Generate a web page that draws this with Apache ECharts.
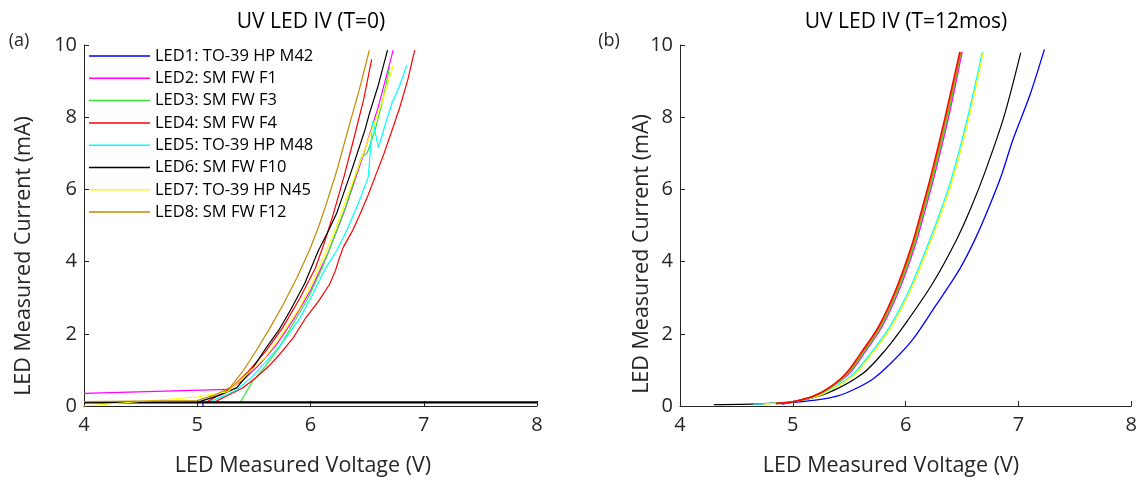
<!DOCTYPE html>
<html><head><meta charset="utf-8">
<script src="https://cdn.jsdelivr.net/npm/echarts@6/dist/echarts.min.js"></script>
<style>html,body{margin:0;padding:0;background:#fff}#c{width:1140px;height:481px}</style>
</head><body><div id="c"></div>
<script>
// ---- names ----
const ledNames = ['LED1: TO-39 HP M42','LED2: SM FW F1','LED3: SM FW F3','LED4: SM FW F4','LED5: TO-39 HP M48','LED6: SM FW F10','LED7: TO-39 HP N45','LED8: SM FW F12'];
const ledColors = ['#0000ff','#ff00ff','#33e633','#ff0000','#00ffff','#000000','#ffff00','#bf8a00'];
const xTicks = [4,5,6,7,8];
const yTicks = [0,2,4,6,8,10];

// ---- T=0 data [V, mA] ----
const t0_led1 = [[5.05,-0.05],[5.05,0.08]];
const t0_led2 = [[4.0,0.35],[5.27,0.46],[5.4,0.7],[5.55,1.15],[5.7,1.7],[5.85,2.4],[6.0,3.2],[6.15,4.2],[6.3,5.4],[6.45,6.8],[6.6,8.3],[6.73,9.86]];
const t0_led3 = [[5.05,0.1],[5.38,0.11],[5.49,0.69],[5.6,1.1],[5.72,1.6],[5.85,2.3],[5.98,3.0],[6.1,3.8],[6.2,4.6],[6.32,5.6],[6.43,6.7],[6.45,6.9],[6.5,7.0],[6.57,7.64],[6.64,8.5],[6.7,9.4]];
const t0_led4a = [[5.08,0.1],[5.3,0.5],[5.45,0.95],[5.6,1.5],[5.75,2.15],[5.9,2.95],[6.04,3.8],[6.12,4.5],[6.2,5.3],[6.3,6.4],[6.39,7.5],[6.47,8.5],[6.54,9.6]];
const t0_led4b = [[5.14,0.09],[5.26,0.28],[5.4,0.5],[5.52,0.79],[5.63,1.1],[5.73,1.44],[5.85,1.9],[5.96,2.45],[6.07,2.9],[6.17,3.38],[6.22,3.75],[6.25,4.05],[6.29,4.4],[6.37,4.85],[6.44,5.33],[6.51,5.85],[6.58,6.43],[6.65,7.0],[6.72,7.64],[6.79,8.29],[6.86,9.05],[6.92,9.86]];
const t0_led5 = [[5.1,0.1],[5.25,0.3],[5.35,0.45],[5.48,0.8],[5.6,1.2],[5.75,1.75],[5.91,2.45],[6.02,3.1],[6.13,3.8],[6.23,4.3],[6.32,4.86],[6.42,5.6],[6.51,6.34],[6.55,7.9],[6.6,7.15],[6.66,7.8],[6.72,8.4],[6.79,8.9],[6.85,9.44]];
const t0_led6 = [[5.0,0.1],[5.2,0.3],[5.35,0.51],[5.48,1.0],[5.61,1.62],[5.72,2.1],[5.82,2.64],[5.95,3.4],[6.07,4.31],[6.15,4.8],[6.23,5.33],[6.36,6.5],[6.48,7.64],[6.52,8.1],[6.6,8.9],[6.68,9.86]];
const t0_led6flat = [[4.0,0.1],[8.0,0.1]];
const t0_led7 = [[4.0,0.0],[5.0,0.25],[5.27,0.4],[5.43,0.85],[5.6,1.35],[5.75,2.0],[5.9,2.7],[6.02,3.45],[6.14,4.31],[6.22,4.9],[6.3,5.6],[6.42,6.6],[6.54,7.64],[6.64,8.5],[6.73,9.44]];
const t0_led8 = [[4.0,0.12],[5.0,0.15],[5.15,0.3],[5.29,0.51],[5.4,0.95],[5.52,1.53],[5.64,2.15],[5.76,2.82],[5.88,3.55],[5.99,4.31],[6.07,4.95],[6.14,5.6],[6.24,6.6],[6.33,7.64],[6.43,8.75],[6.52,9.86]];

// ---- T=12mos data [V, mA] ----
const t12_led1 = [[4.9,0.05],[5.0,0.1],[5.2,0.16],[5.4,0.28],[5.55,0.47],[5.71,0.75],[5.88,1.22],[6.06,1.83],[6.26,2.75],[6.48,3.8],[6.62,4.65],[6.74,5.52],[6.85,6.4],[6.95,7.37],[7.1,8.6],[7.23,9.88]];
const t12_led2 = [[4.85,0.07],[5.0,0.12],[5.18,0.26],[5.33,0.5],[5.5,0.9],[5.64,1.5],[5.79,2.2],[5.94,3.2],[6.08,4.41],[6.17,5.4],[6.26,6.45],[6.38,8.0],[6.5,9.81]];
const t12_led3 = [[4.85,0.07],[5.0,0.12],[5.18,0.26],[5.33,0.5],[5.49,0.9],[5.63,1.5],[5.78,2.2],[5.93,3.2],[6.07,4.41],[6.16,5.4],[6.25,6.45],[6.37,8.0],[6.49,9.81]];
const t12_led4 = [[4.85,0.07],[5.0,0.12],[5.18,0.27],[5.32,0.5],[5.47,0.9],[5.61,1.5],[5.76,2.2],[5.91,3.2],[6.05,4.41],[6.14,5.4],[6.23,6.45],[6.35,8.0],[6.48,9.81]];
const t12_led5 = [[4.65,0.05],[5.0,0.12],[5.2,0.26],[5.36,0.5],[5.54,0.9],[5.7,1.5],[5.86,2.2],[6.03,3.2],[6.19,4.41],[6.31,5.4],[6.42,6.45],[6.55,8.0],[6.68,9.81]];
const t12_led6 = [[4.3,0.04],[4.7,0.06],[5.0,0.12],[5.3,0.35],[5.62,0.9],[5.82,1.55],[6.0,2.29],[6.24,3.4],[6.45,4.6],[6.58,5.5],[6.7,6.45],[6.87,8.0],[7.02,9.79]];
const t12_led7 = [[4.75,0.05],[5.0,0.12],[5.2,0.25],[5.37,0.5],[5.55,0.88],[5.71,1.48],[5.87,2.18],[6.04,3.18],[6.2,4.39],[6.32,5.38],[6.43,6.42],[6.56,7.98],[6.69,9.81]];
const t12_led8 = [[4.85,0.07],[5.0,0.12],[5.18,0.27],[5.32,0.5],[5.48,0.9],[5.62,1.5],[5.77,2.2],[5.92,3.2],[6.06,4.41],[6.15,5.4],[6.24,6.45],[6.36,8.0],[6.49,9.81]];

const t0Series = [
  [0,t0_led1,1.2],[1,t0_led2,1.2],[2,t0_led3,1.2],[3,t0_led4a,1.2],[3,t0_led4b,1.2],[4,t0_led5,1.2],[5,t0_led6,1.2],[5,t0_led6flat,2.2],[6,t0_led7,1.2],[7,t0_led8,1.2]
];
const t12Series = [
  [0,t12_led1,1.3],[5,t12_led6,1.2],[4,t12_led5,1.3],[6,t12_led7,1.3],[1,t12_led2,1.5],[2,t12_led3,1.5],[7,t12_led8,1.5],[3,t12_led4,1.5]
];

const FONT = 'Open Sans';
const TXT = '#262626';
function mkSeries(list, idx){
  return list.map(([k,d,w])=>({
    type:'line', name: ledNames[k], xAxisIndex: idx, yAxisIndex: idx, data: d,
    symbol:'none', smooth: idx===1 ? 0.3 : false, clip:true, silent:true,
    lineStyle:{color: ledColors[k], width:w}, itemStyle:{color: ledColors[k]},
    animation:false
  }));
}
function xAx(idx){
  return {type:'value', gridIndex: idx, min:4, max:8, interval:1,
    axisLine:{show:true, onZero:false, lineStyle:{color:TXT, width:1}},
    axisTick:{show:true, inside:true, length:5, lineStyle:{color:TXT}},
    axisLabel:{color:TXT, fontSize:20, fontFamily:FONT, margin:9},
    splitLine:{show:false}};
}
function yAx(idx){
  return {type:'value', gridIndex: idx, min:0, max:10, interval:2,
    axisLine:{show:true, onZero:false, lineStyle:{color:TXT, width:1}},
    axisTick:{show:true, inside:true, length:5, lineStyle:{color:TXT}},
    axisLabel:{color:TXT, fontSize:20, fontFamily:FONT, margin:7},
    splitLine:{show:false}};
}
const chart = echarts.init(document.getElementById('c'), null, {renderer:'canvas'});
chart.setOption({
  animation:false,
  backgroundColor:'#fff',
  grid:[{left:84, right:603, top:45, bottom:75},{left:680, right:8, top:45, bottom:75}],
  xAxis:[xAx(0), xAx(1)],
  yAxis:[yAx(0), yAx(1)],
  legend:{
    data: ledNames, left:89, top:47, orient:'vertical', icon:'rect',
    itemWidth:61, itemHeight:1.5, itemGap:4.3, selectedMode:false,
    textStyle:{fontFamily:FONT, fontSize:16.5, color:'#000', lineHeight:18},
    padding:0
  },
  graphic:[
    {type:'text', style:{text:'UV LED IV (T=0)', x:311, y:22, align:'center', verticalAlign:'middle', font:'21px "Open Sans"', fill:'#000'}},
    {type:'text', style:{text:'UV LED IV (T=12mos)', x:906, y:22, align:'center', verticalAlign:'middle', font:'21px "Open Sans"', fill:'#000'}},
    {type:'text', style:{text:'(a)', x:19, y:41, align:'center', verticalAlign:'middle', font:'18px "Open Sans"', fill:TXT}},
    {type:'text', style:{text:'(b)', x:609, y:41, align:'center', verticalAlign:'middle', font:'18px "Open Sans"', fill:TXT}},
    {type:'text', style:{text:'LED Measured Voltage (V)', x:303, y:466, align:'center', verticalAlign:'middle', font:'21.5px "Open Sans"', fill:TXT}},
    {type:'text', style:{text:'LED Measured Voltage (V)', x:891, y:466, align:'center', verticalAlign:'middle', font:'21.5px "Open Sans"', fill:TXT}},
    {type:'text', x:24, y:256, rotation:Math.PI/2, style:{text:'LED Measured Current (mA)', x:0, y:0, align:'center', verticalAlign:'middle', font:'21.5px "Open Sans"', fill:TXT}},
    {type:'text', x:642, y:254, rotation:Math.PI/2, style:{text:'LED Measured Current (mA)', x:0, y:0, align:'center', verticalAlign:'middle', font:'21.5px "Open Sans"', fill:TXT}}
  ],
  series: mkSeries(t0Series,0).concat(mkSeries(t12Series,1))
});
</script></body></html>
